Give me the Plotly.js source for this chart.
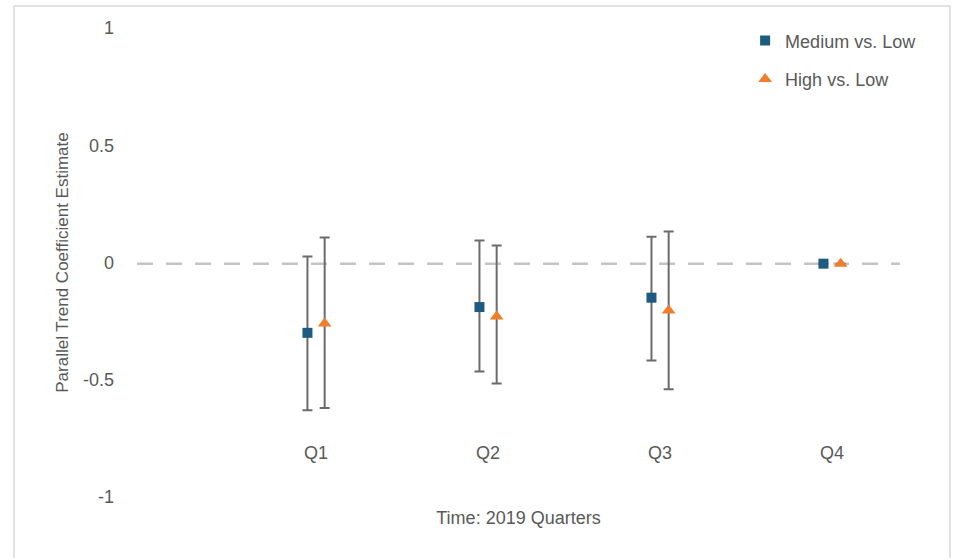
<!DOCTYPE html>
<html>
<head>
<meta charset="utf-8">
<script src="https://cdn.plot.ly/plotly-3.0.1.min.js"></script>
<style>
  html, body { margin: 0; padding: 0; background: #ffffff; }
  #chart { width: 955px; height: 558px; }
</style>
</head>
<body>
<div id="chart"></div>
<script>
// Data
var categories = ['Q1', 'Q2', 'Q3', 'Q4'];
var seriesNames = ['Medium vs. Low', 'High vs. Low'];

var mediumEstimate = [-0.30, -0.19, -0.15, -0.005];
var mediumUpper    = [0.026, 0.094, 0.11, -0.005];
var mediumLower    = [-0.63, -0.465, -0.418, -0.005];

var highEstimate = [-0.26, -0.23, -0.205, -0.005];
var highUpper    = [0.107, 0.072, 0.132, -0.005];
var highLower    = [-0.62, -0.516, -0.54, -0.005];

var yTickVals = [-1, -0.5, 0, 0.5, 1];
var yTickText = ['-1', '-0.5', '0', '0.5', '1'];

var catPos = categories.map(function (c, i) { return i + 1; });
var dodge = 0.05;

function diff(a, b) { return a.map(function (v, i) { return Math.max(0, v - b[i]); }); }

var textColor = '#595959';
var fontFamily = '"Liberation Sans", Arial, sans-serif';

var traces = [
  {
    name: seriesNames[0],
    legendgroup: 'g1',
    x: catPos.map(function (p) { return p - dodge; }),
    y: mediumEstimate,
    type: 'scatter',
    mode: 'markers',
    marker: { symbol: 'square', size: 10, color: '#1d5b80' },
    error_y: {
      type: 'data', symmetric: false,
      array: diff(mediumUpper, mediumEstimate),
      arrayminus: diff(mediumEstimate, mediumLower),
      color: '#6b6b6b', thickness: 2, width: 5
    }
  },
  {
    name: seriesNames[1],
    legendgroup: 'g2',
    x: catPos.map(function (p) { return p + dodge; }),
    y: highEstimate,
    type: 'scatter',
    mode: 'markers',
    marker: { symbol: 'triangle-up', size: 12, color: '#f07d2b' },
    error_y: {
      type: 'data', symmetric: false,
      array: diff(highUpper, highEstimate),
      arrayminus: diff(highEstimate, highLower),
      color: '#6b6b6b', thickness: 2, width: 5
    }
  }
];

var layout = {
  width: 955,
  height: 558,
  margin: { l: 137, r: 55, t: 28, b: 61 },
  paper_bgcolor: '#ffffff',
  plot_bgcolor: '#ffffff',
  font: { family: fontFamily, color: textColor, size: 18 },
  showlegend: true,
  legend: {
    x: 0.797, y: 1.012, xanchor: 'left', yanchor: 'top',
    font: { size: 18, color: textColor },
    tracegroupgap: 12,
    traceorder: 'grouped',
    bgcolor: 'rgba(0,0,0,0)'
  },
  xaxis: {
    range: [-0.041, 4.395],
    tickmode: 'array',
    tickvals: catPos,
    ticktext: categories,
    showgrid: false,
    zeroline: false,
    showline: false,
    ticks: '',
    anchor: 'free',
    position: 0.1215,
    tickfont: { size: 18, color: textColor },
    title: { text: 'Time: 2019 Quarters', font: { size: 18, color: textColor }, standoff: 49 }
  },
  yaxis: {
    range: [-1, 1],
    tickmode: 'array',
    tickvals: yTickVals,
    ticktext: yTickText,
    showgrid: false,
    zeroline: false,
    showline: false,
    ticks: '',
    ticklabelstandoff: 22,
    tickfont: { size: 18, color: textColor },
    title: { text: 'Parallel Trend Coefficient Estimate', font: { size: 17, color: textColor }, standoff: 10 }
  },
  shapes: [
    {
      type: 'line', xref: 'paper', yref: 'y',
      x0: 0, x1: 1, y0: -0.005, y1: -0.005,
      line: { color: '#c4c4c4', width: 2.5, dash: '16px,13px' },
      layer: 'below'
    },
    {
      type: 'rect', xref: 'paper', yref: 'paper',
      x0: -0.1612, x1: 1.0655, y0: -0.16, y1: 1.047,
      line: { color: '#d9d9d9', width: 1.5 },
      fillcolor: 'rgba(0,0,0,0)',
      layer: 'below'
    }
  ]
};

Plotly.newPlot('chart', traces, layout, { displayModeBar: false, staticPlot: true });
</script>
</body>
</html>
